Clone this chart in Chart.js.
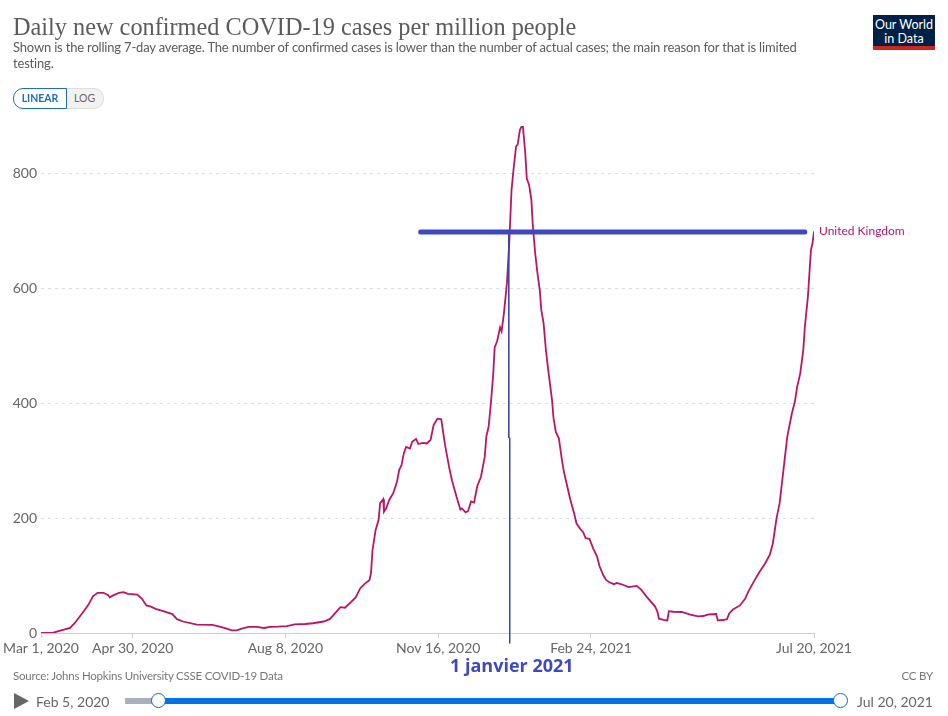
<!DOCTYPE html>
<html>
<head>
<meta charset="utf-8">
<title>Daily new confirmed COVID-19 cases per million people</title>
<script src="https://cdn.jsdelivr.net/npm/chart.js@4"></script>
<style>
html, body { margin: 0; padding: 0; background: #fff; }
body { width: 948px; height: 716px; position: relative; overflow: hidden; font-family: Lato, sans-serif; }
canvas { position: absolute; left: 0; top: 0; }
.t { position: absolute; white-space: nowrap; }
#title { left: 13px; top: 13px; font: 24.3px "Liberation Serif", serif; color: #5b5b5b; }
#sub { left: 13px; top: 40px; font-size: 13px; line-height: 15.5px; color: #5b5b5b; letter-spacing: -0.18px; }
#linear { left: 13px; top: 88px; width: 52px; height: 19px; border: 1px solid #1d6fb8; border-radius: 10px 0 0 10px; color: #1d6fb8; font-size: 10.5px; font-weight: bold; line-height: 19px; text-align: center; z-index: 1; }
#log { left: 66px; top: 88px; width: 37px; height: 19px; border: 1px solid #ddd; border-left: 0; border-radius: 0 10px 10px 0; background: #f2f2f2; color: #666; font-size: 10.5px; line-height: 19px; text-align: center; }
#logo { left: 873px; top: 15px; width: 62px; height: 35px; background: #002147; border-bottom: 4px solid #ce261e; box-sizing: border-box; color: #fff; font-size: 12.5px; line-height: 13.5px; text-align: center; padding-top: 3px; }
#source { left: 13px; top: 669px; font-size: 11.5px; color: #777; letter-spacing: -0.22px; }
#ccby { right: 15px; top: 669px; font-size: 11.5px; color: #777; letter-spacing: -0.2px; }
#jan { left: 450px; top: 653px; font: bold 18px "Open Sans", sans-serif; color: #3f48c0; }
#play { left: 14px; top: 693px; width: 0; height: 0; border-left: 15px solid #666; border-top: 8px solid transparent; border-bottom: 8px solid transparent; }
#from { left: 36px; top: 693px; font-size: 14px; color: #666; }
#to { left: 857px; top: 693px; font-size: 14px; color: #666; }
#trackGrey { left: 125px; top: 698px; width: 33px; height: 6px; background: #a9b0bb; }
#trackBlue { left: 158px; top: 698px; width: 682px; height: 6px; background: #0073e6; }
.knob { position: absolute; top: 693px; width: 13px; height: 13px; border: 1.5px solid #0a66c2; border-radius: 50%; background: #fff; }
</style>
</head>
<body>
<canvas id="myChart" width="948" height="716"></canvas>
<div class="t" id="title">Daily new confirmed COVID-19 cases per million people</div>
<div class="t" id="sub">Shown is the rolling 7-day average. The number of confirmed cases is lower than the number of actual cases; the main reason for that is limited<br>testing.</div>
<div class="t" id="linear">LINEAR</div>
<div class="t" id="log">LOG</div>
<div class="t" id="logo">Our World<br>in Data</div>
<div class="t" id="source">Source: Johns Hopkins University CSSE COVID-19 Data</div>
<div class="t" id="ccby">CC BY</div>
<div class="t" id="jan">1 janvier 2021</div>
<div class="t" id="play"></div>
<div class="t" id="from">Feb 5, 2020</div>
<div class="t" id="trackGrey"></div>
<div class="t" id="trackBlue"></div>
<div class="knob" style="left:151px"></div>
<div class="knob" style="left:833px"></div>
<div class="t" id="to">Jul 20, 2021</div>
<script>
// days since Mar 1, 2020
var days = [0, 8, 12, 19, 22, 28, 31, 34, 37, 41, 44, 45, 47, 51, 54, 57, 63, 66, 69, 72, 75, 80, 86, 89, 93, 102, 112, 117, 121, 125, 128, 132, 136, 141, 146, 150, 155, 161, 166, 173, 178, 185, 189, 192, 196, 199, 203, 206, 209, 212, 215, 216, 217, 219, 221, 222, 224, 224.5, 226, 228, 230.5, 233, 234.5, 236, 237.5, 239, 241.5, 243, 245.5, 247, 250, 252.5, 255, 257, 259.5, 262, 264.5, 267.5, 269, 272, 274.5, 275.5, 278, 279.5, 281.5, 283.5, 285.5, 288, 290.5, 291.5, 293, 294.5, 296, 297, 298.5, 300.5, 301.5, 303, 305, 306.5, 308, 309.5, 311, 312, 313.5, 314.5, 315.5, 317, 318, 319.5, 321, 322, 323.5, 325, 326.5, 327.5, 329, 330.5, 332, 334.5, 335.5, 337, 339, 341, 342.5, 344.5, 346.5, 349, 350.5, 353, 355, 356.5, 359, 361.5, 364, 365.5, 368, 370, 372.5, 375, 377, 381, 384.5, 390, 393, 396.5, 402, 403.5, 404.5, 407.5, 410, 411, 414, 419.5, 425, 430, 433.5, 437, 442, 443, 446.5, 449, 450.5, 453, 457.5, 461, 463, 466.5, 470.5, 474, 477, 479, 481.5, 483.5, 485.5, 487, 488.5, 491.5, 493.5, 495, 497, 499, 500, 502, 503, 504, 505, 506];
var caseValues = [0, 0.5, 3.5, 9, 17, 38, 49, 64, 70, 70, 66, 62, 65, 70, 71, 68, 67, 60, 48, 46, 42, 38, 33, 24, 20, 14.5, 14, 11, 8, 4.6, 4.6, 8, 10.5, 10.5, 8.7, 10.5, 11, 12, 15, 15.7, 17, 20, 24, 33, 45, 44, 54, 62, 78, 86, 92, 104, 144, 179, 197, 226, 233, 211, 217, 232, 243, 263, 284, 292, 313, 324, 321, 333, 338, 329, 331, 330, 336, 362, 373, 372, 327, 284, 266, 237, 215, 217, 210, 212, 229, 227, 255, 272, 307, 342, 359, 400, 450, 498, 507, 532, 525, 556, 609, 678, 771, 812, 847, 850, 876, 881, 881, 835, 791, 780, 754, 707, 661, 626, 597, 562, 539, 493, 458, 406, 374, 350, 339, 301, 278, 255, 232, 208, 191, 181, 175, 165, 164, 147, 133, 117, 101, 92, 88, 85, 87, 84, 80, 82, 75, 63, 46, 37, 25, 23, 22, 38, 37, 36.6, 32, 29, 29.6, 32.5, 33, 22, 22.6, 24, 34, 41, 48, 60, 72, 89, 107, 121, 136, 155, 200, 226, 272, 307, 342, 382, 403, 429, 452, 493, 533, 585, 626, 667, 678, 699];

var xTickDays = [0, 60, 160, 260, 360, 506];
var xTickLabels = ['Mar 1, 2020', 'Apr 30, 2020', 'Aug 8, 2020', 'Nov 16, 2020', 'Feb 24, 2021', 'Jul 20, 2021'];
var yTickValues = [0, 200, 400, 600, 800];

// hand drawn marks on the original
var levelDays = [248.5, 500];
var levelValues = [698, 698];
var janDays = [306.2, 306.2, 306.8, 306.8];
var janValues = [698, 340, 340, -18];

var seriesName = 'United Kingdom';
var pink = '#bd1463';
var blue = '#3f48c0';

function toPoints(xs, ys) {
    return xs.map(function(x, i) { return { x: x, y: ys[i] }; });
}

// name next to the end of the line
var endLabel = {
    id: 'endLabel',
    afterDatasetsDraw: function(chart) {
        var ctx = chart.ctx;
        var last = days.length - 1;
        ctx.save();
        ctx.font = '12px Lato';
        ctx.fillStyle = pink;
        ctx.textBaseline = 'middle';
        ctx.fillText(seriesName, chart.scales.x.getPixelForValue(days[last]) + 5, chart.scales.y.getPixelForValue(caseValues[last]));
        ctx.restore();
    }
};

var ctx = document.getElementById('myChart').getContext('2d');
var chart = new Chart(ctx, {
    type: 'line',
    data: {
        datasets: [{
            label: seriesName,
            data: toPoints(days, caseValues),
            borderColor: pink,
            borderWidth: 1.8,
            pointRadius: 0,
            tension: 0,
            order: 3
        }, {
            label: 'level',
            data: toPoints(levelDays, levelValues),
            borderColor: blue,
            borderWidth: 5,
            borderCapStyle: 'round',
            pointRadius: 0,
            order: 1
        }, {
            label: '1 janvier 2021',
            data: toPoints(janDays, janValues),
            borderColor: '#3b45a8',
            borderWidth: 1,
            pointRadius: 0,
            clip: false,
            order: 2
        }]
    },
    plugins: [endLabel],
    options: {
        responsive: false,
        animation: false,
        layout: { padding: { left: 0, right: 134, top: 116, bottom: 0 } },
        plugins: { legend: { display: false }, tooltip: { enabled: false } },
        scales: {
            x: {
                type: 'linear',
                min: 0,
                max: 506,
                afterBuildTicks: function(s) { s.ticks = xTickDays.map(function(v) { return { value: v }; }); },
                afterFit: function(s) { s.height = 83; },
                ticks: {
                    autoSkip: false,
                    maxRotation: 0,
                    padding: 2,
                    color: '#666',
                    font: { family: 'Lato', size: 14 },
                    callback: function(v) { return xTickLabels[xTickDays.indexOf(v)]; }
                },
                grid: { drawOnChartArea: false, tickLength: 5, tickColor: '#ccc' },
                border: { color: '#ccc' }
            },
            y: {
                min: 0,
                max: 900,
                afterBuildTicks: function(s) { s.ticks = yTickValues.map(function(v) { return { value: v }; }); },
                afterFit: function(s) { s.width = 41; },
                ticks: { padding: 4, color: '#666', font: { family: 'Lato', size: 14 } },
                grid: {
                    drawTicks: false,
                    color: function(c) { return c.tick.value === 0 ? 'rgba(0,0,0,0)' : '#ddd'; }
                },
                border: { display: false, dash: [3, 4] }
            }
        }
    }
});
</script>
</body>
</html>
